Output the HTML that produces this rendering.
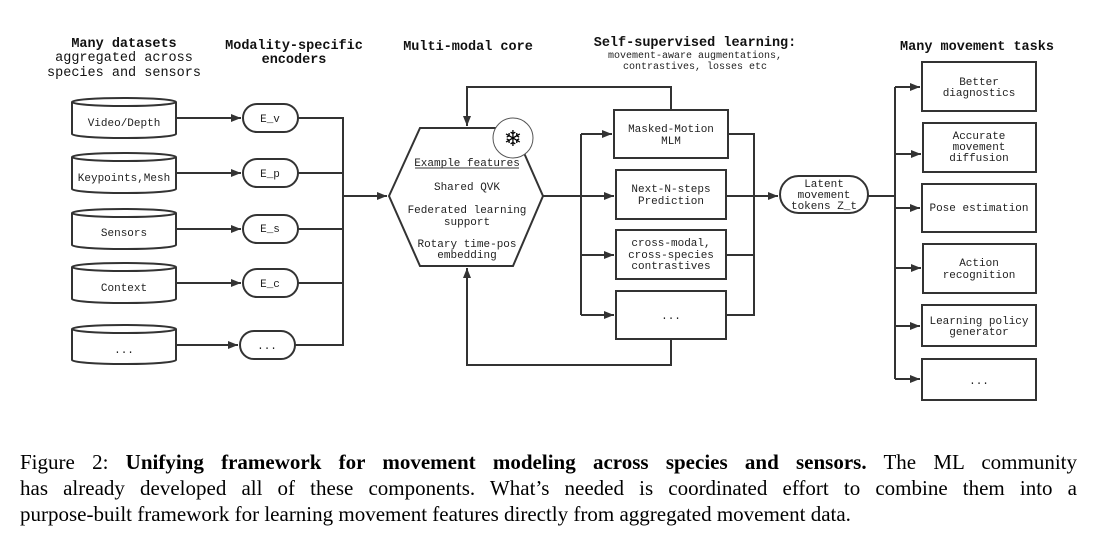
<!DOCTYPE html>
<html><head><meta charset="utf-8"><style>
body{margin:0;background:#fff;width:1102px;height:552px;overflow:hidden;position:relative}
svg{display:block}
.m{font-family:"Liberation Mono",monospace;font-size:11px;fill:#222}
.h{font-family:"Liberation Mono",monospace;font-size:13.5px;font-weight:bold;fill:#111}
.hs{font-family:"Liberation Mono",monospace;font-size:13.5px;fill:#111}
.s{font-family:"Liberation Mono",monospace;font-size:10px;fill:#222}
.cap{position:absolute;left:20px;width:1057px;font-family:"Liberation Serif",serif;font-size:21px;line-height:26px;color:#000;text-align:justify;text-align-last:justify;white-space:nowrap}
</style></head><body>
<svg width="1102" height="552" viewBox="0 0 1102 552">
<defs><marker id="a" viewBox="0 0 10 10" refX="10" refY="5" markerWidth="5" markerHeight="5" orient="auto"><path d="M0,1 L10,5 L0,9 z" fill="#333"/></marker></defs>
<g text-anchor="middle">
<text class="h" x="124" y="47">Many datasets</text>
<text class="hs" x="124" y="61">aggregated across</text>
<text class="hs" x="124" y="76">species and sensors</text>
<text class="h" x="294" y="49">Modality-specific</text>
<text class="h" x="294" y="63">encoders</text>
<text class="h" x="468" y="50">Multi-modal core</text>
<text class="h" x="695" y="46">Self-supervised learning:</text>
<text class="s" x="695" y="58">movement-aware augmentations,</text>
<text class="s" x="695" y="69">contrastives, losses etc</text>
<text class="h" x="977" y="50">Many movement tasks</text>
</g>
<g fill="#fff" stroke="#333" stroke-width="2">
<path d="M72,102 V134 A52,4 0 0 0 176,134 V102"/><ellipse cx="124" cy="102" rx="52" ry="4"/>
<path d="M72,157 V189 A52,4 0 0 0 176,189 V157"/><ellipse cx="124" cy="157" rx="52" ry="4"/>
<path d="M72,213 V245 A52,4 0 0 0 176,245 V213"/><ellipse cx="124" cy="213" rx="52" ry="4"/>
<path d="M72,267 V299 A52,4 0 0 0 176,299 V267"/><ellipse cx="124" cy="267" rx="52" ry="4"/>
<path d="M72,329 V360 A52,4 0 0 0 176,360 V329"/><ellipse cx="124" cy="329" rx="52" ry="4"/>
<rect x="243" y="104" width="55" height="28" rx="14"/>
<rect x="243" y="159" width="55" height="28" rx="14"/>
<rect x="243" y="215" width="55" height="28" rx="14"/>
<rect x="243" y="269" width="55" height="28" rx="14"/>
<rect x="240" y="331" width="55" height="28" rx="14"/>
<path d="M389,196 L420,128 L513,128 L543,196 L513,266 L420,266 Z"/>
<rect x="614" y="110" width="114" height="48"/>
<rect x="616" y="170" width="110" height="49"/>
<rect x="616" y="230" width="110" height="49"/>
<rect x="616" y="291" width="110" height="48"/>
<rect x="780" y="176" width="88" height="37" rx="18.5"/>
<rect x="922" y="62" width="114" height="49"/>
<rect x="923" y="123" width="113" height="49"/>
<rect x="922" y="184" width="114" height="48"/>
<rect x="923" y="244" width="113" height="49"/>
<rect x="922" y="305" width="114" height="41"/>
<rect x="922" y="359" width="114" height="41"/>
</g>
<circle cx="513" cy="138" r="20" fill="#fff" stroke="#555" stroke-width="1"/>
<text x="513" y="146" text-anchor="middle" style="font-family:'DejaVu Sans',sans-serif;font-size:22px;font-weight:bold" fill="#000">❄</text>
<g fill="none" stroke="#333" stroke-width="2">
<line x1="176" y1="118" x2="241" y2="118" marker-end="url(#a)"/>
<line x1="176" y1="173" x2="241" y2="173" marker-end="url(#a)"/>
<line x1="176" y1="229" x2="241" y2="229" marker-end="url(#a)"/>
<line x1="176" y1="283" x2="241" y2="283" marker-end="url(#a)"/>
<line x1="176" y1="345" x2="238" y2="345" marker-end="url(#a)"/>
<path d="M298,118 H343 M298,173 H343 M298,229 H343 M298,283 H343 M295,345 H343 M343,117 V346"/>
<line x1="343" y1="196" x2="387" y2="196" marker-end="url(#a)"/>
<path d="M671,110 V87 H467 V126" marker-end="url(#a)"/>
<path d="M671,339 V365 H467 V268" marker-end="url(#a)"/>
<path d="M543,196 H581 M581,134 V315"/>
<line x1="581" y1="134" x2="612" y2="134" marker-end="url(#a)"/>
<line x1="581" y1="196" x2="614" y2="196" marker-end="url(#a)"/>
<line x1="581" y1="255" x2="614" y2="255" marker-end="url(#a)"/>
<line x1="581" y1="315" x2="614" y2="315" marker-end="url(#a)"/>
<path d="M728,134 H754 M726,196 H754 M726,255 H754 M726,315 H754 M754,133 V316"/>
<line x1="754" y1="196" x2="778" y2="196" marker-end="url(#a)"/>
<path d="M868,196 H895 M895,87 V379"/>
<line x1="895" y1="87" x2="920" y2="87" marker-end="url(#a)"/>
<line x1="895" y1="154" x2="921" y2="154" marker-end="url(#a)"/>
<line x1="895" y1="208" x2="920" y2="208" marker-end="url(#a)"/>
<line x1="895" y1="268" x2="921" y2="268" marker-end="url(#a)"/>
<line x1="895" y1="326" x2="920" y2="326" marker-end="url(#a)"/>
<line x1="895" y1="379" x2="920" y2="379" marker-end="url(#a)"/>
</g>
<line x1="415" y1="168" x2="519" y2="168" stroke="#333" stroke-width="1"/>
<g text-anchor="middle" class="m">
<text class="m" x="124" y="126">Video/Depth</text>
<text class="m" x="124" y="181">Keypoints,Mesh</text>
<text class="m" x="124" y="236">Sensors</text>
<text class="m" x="124" y="291">Context</text>
<text class="m" x="124" y="353">...</text>
<text class="m" x="270" y="122">E_v</text>
<text class="m" x="270" y="177">E_p</text>
<text class="m" x="270" y="232">E_s</text>
<text class="m" x="270" y="287">E_c</text>
<text class="m" x="267" y="349">...</text>
<text class="m" x="467" y="166">Example features</text>
<text class="m" x="467" y="190">Shared QVK</text>
<text class="m" x="467" y="213">Federated learning</text>
<text class="m" x="467" y="225">support</text>
<text class="m" x="467" y="247">Rotary time-pos</text>
<text class="m" x="467" y="258">embedding</text>
<text class="m" x="671" y="132">Masked-Motion</text>
<text class="m" x="671" y="144">MLM</text>
<text class="m" x="671" y="192">Next-N-steps</text>
<text class="m" x="671" y="204">Prediction</text>
<text class="m" x="671" y="246">cross-modal,</text>
<text class="m" x="671" y="258">cross-species</text>
<text class="m" x="671" y="269">contrastives</text>
<text class="m" x="671" y="319">...</text>
<text class="m" x="824" y="187">Latent</text>
<text class="m" x="824" y="198">movement</text>
<text class="m" x="824" y="209">tokens Z_t</text>
<text class="m" x="979" y="85">Better</text>
<text class="m" x="979" y="96">diagnostics</text>
<text class="m" x="979" y="139">Accurate</text>
<text class="m" x="979" y="150">movement</text>
<text class="m" x="979" y="161">diffusion</text>
<text class="m" x="979" y="211">Pose estimation</text>
<text class="m" x="979" y="266">Action</text>
<text class="m" x="979" y="278">recognition</text>
<text class="m" x="979" y="324">Learning policy</text>
<text class="m" x="979" y="335">generator</text>
<text class="m" x="979" y="384">...</text>
</g>
</svg>
<div class="cap" style="top:449px">Figure 2: <b>Unifying framework for movement modeling across species and sensors.</b> The ML community</div>
<div class="cap" style="top:475px">has already developed all of these components. What’s needed is coordinated effort to combine them into a</div>
<div class="cap" style="top:501px;text-align-last:left">purpose-built framework for learning movement features directly from aggregated movement data.</div>
</body></html>
